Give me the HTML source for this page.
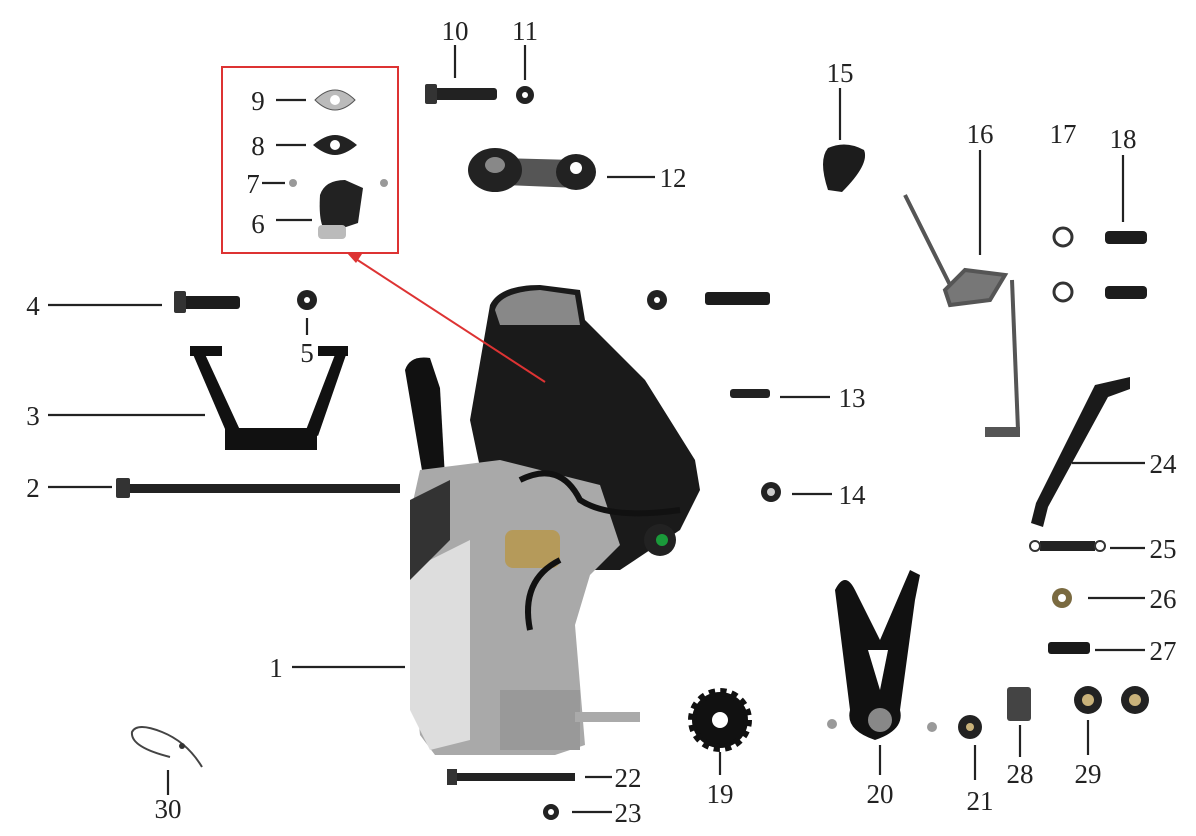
<!DOCTYPE html>
<html><head><meta charset="utf-8"><style>
html,body{margin:0;padding:0;background:#fff;}
svg{display:block;}
text{font-family:"Liberation Serif",serif;font-size:27px;fill:#222;}
</style></head><body>
<svg width="1196" height="836" viewBox="0 0 1196 836" xmlns="http://www.w3.org/2000/svg">
<rect width="1196" height="836" fill="#fff"/>
<g stroke="#222" stroke-width="2.2" fill="none">
<line x1="455" y1="45" x2="455" y2="78"/>
<line x1="525" y1="45" x2="525" y2="80"/>
<line x1="607" y1="177" x2="655" y2="177"/>
<line x1="840" y1="88" x2="840" y2="140"/>
<line x1="980" y1="150" x2="980" y2="255"/>
<line x1="1123" y1="155" x2="1123" y2="222"/>
<line x1="276" y1="100" x2="306" y2="100"/>
<line x1="276" y1="145" x2="306" y2="145"/>
<line x1="262" y1="183" x2="285" y2="183"/>
<line x1="276" y1="220" x2="312" y2="220"/>
<line x1="48" y1="305" x2="162" y2="305"/>
<line x1="307" y1="318" x2="307" y2="335"/>
<line x1="48" y1="415" x2="205" y2="415"/>
<line x1="48" y1="487" x2="112" y2="487"/>
<line x1="292" y1="667" x2="405" y2="667"/>
<line x1="780" y1="397" x2="830" y2="397"/>
<line x1="792" y1="494" x2="832" y2="494"/>
<line x1="1072" y1="463" x2="1145" y2="463"/>
<line x1="1110" y1="548" x2="1145" y2="548"/>
<line x1="1088" y1="598" x2="1145" y2="598"/>
<line x1="1095" y1="650" x2="1145" y2="650"/>
<line x1="1088" y1="720" x2="1088" y2="755"/>
<line x1="1020" y1="725" x2="1020" y2="757"/>
<line x1="975" y1="745" x2="975" y2="780"/>
<line x1="880" y1="745" x2="880" y2="775"/>
<line x1="720" y1="752" x2="720" y2="775"/>
<line x1="585" y1="777" x2="612" y2="777"/>
<line x1="572" y1="812" x2="612" y2="812"/>
<line x1="168" y1="770" x2="168" y2="795"/>
</g>
<text x="455" y="40" text-anchor="middle">10</text>
<text x="525" y="40" text-anchor="middle">11</text>
<text x="673" y="187" text-anchor="middle">12</text>
<text x="840" y="82" text-anchor="middle">15</text>
<text x="980" y="143" text-anchor="middle">16</text>
<text x="1063" y="143" text-anchor="middle">17</text>
<text x="1123" y="148" text-anchor="middle">18</text>
<text x="258" y="110" text-anchor="middle">9</text>
<text x="258" y="155" text-anchor="middle">8</text>
<text x="253" y="193" text-anchor="middle">7</text>
<text x="258" y="233" text-anchor="middle">6</text>
<text x="33" y="315" text-anchor="middle">4</text>
<text x="307" y="362" text-anchor="middle">5</text>
<text x="33" y="425" text-anchor="middle">3</text>
<text x="33" y="497" text-anchor="middle">2</text>
<text x="276" y="677" text-anchor="middle">1</text>
<text x="852" y="407" text-anchor="middle">13</text>
<text x="852" y="504" text-anchor="middle">14</text>
<text x="1163" y="473" text-anchor="middle">24</text>
<text x="1163" y="558" text-anchor="middle">25</text>
<text x="1163" y="608" text-anchor="middle">26</text>
<text x="1163" y="660" text-anchor="middle">27</text>
<text x="1088" y="783" text-anchor="middle">29</text>
<text x="1020" y="783" text-anchor="middle">28</text>
<text x="980" y="810" text-anchor="middle">21</text>
<text x="880" y="803" text-anchor="middle">20</text>
<text x="720" y="803" text-anchor="middle">19</text>
<text x="628" y="787" text-anchor="middle">22</text>
<text x="628" y="822" text-anchor="middle">23</text>
<text x="168" y="818" text-anchor="middle">30</text>

<rect x="222" y="67" width="176" height="186" fill="none" stroke="#d33" stroke-width="2"/>
<path d="M315,100 q10,-10 20,-10 q10,0 20,10 q-10,10 -20,10 q-10,0 -20,-10z" fill="#bbb" stroke="#555"/>
<circle cx="335" cy="100" r="5" fill="#fff"/>
<path d="M313,145 q12,-10 22,-10 q10,0 22,10 q-12,10 -22,10 q-10,0 -22,-10z" fill="#222"/>
<circle cx="335" cy="145" r="5" fill="#fff"/>
<circle cx="293" cy="183" r="4" fill="#999"/>
<circle cx="384" cy="183" r="4" fill="#999"/>
<path d="M320,195 q5,-15 25,-15 l18,8 l-5,35 l-30,10 q-10,-5 -8,-38z" fill="#222"/>
<rect x="318" y="225" width="28" height="14" rx="4" fill="#bbb"/>

<rect x="427" y="88" width="70" height="12" rx="3" fill="#222"/>
<rect x="425" y="84" width="12" height="20" rx="2" fill="#333"/>
<circle cx="525" cy="95" r="9" fill="#222"/><circle cx="525" cy="95" r="3" fill="#fff"/>
<path d="M500,158 L575,160 L578,188 L505,185z" fill="#555"/>
<ellipse cx="495" cy="170" rx="27" ry="22" fill="#222"/>
<ellipse cx="495" cy="165" rx="10" ry="8" fill="#888"/>
<ellipse cx="576" cy="172" rx="20" ry="18" fill="#222"/>
<ellipse cx="576" cy="168" rx="6" ry="6" fill="#fff"/>
<path d="M828,190 q-10,-30 0,-42 q18,-8 36,2 q6,14 -22,42z" fill="#1c1c1c"/>
<g stroke="#555" stroke-width="4" fill="none">
<line x1="905" y1="195" x2="955" y2="295"/>
<path d="M945,290 l20,-20 l40,5 l-15,25 l-40,5z" fill="#777"/>
<line x1="1012" y1="280" x2="1018" y2="430"/>
<line x1="985" y1="432" x2="1020" y2="432" stroke-width="10"/>
</g>
<circle cx="1063" cy="237" r="9" fill="none" stroke="#333" stroke-width="3"/>
<circle cx="1063" cy="292" r="9" fill="none" stroke="#333" stroke-width="3"/>
<rect x="1105" y="231" width="42" height="13" rx="4" fill="#1c1c1c"/>
<rect x="1105" y="286" width="42" height="13" rx="4" fill="#1c1c1c"/>
<rect x="175" y="296" width="65" height="13" rx="3" fill="#1c1c1c"/>
<rect x="174" y="291" width="12" height="22" rx="2" fill="#333"/>
<circle cx="307" cy="300" r="10" fill="#222"/><circle cx="307" cy="300" r="3" fill="#fff"/>
<!-- 3 bracket -->
<g fill="#111">
<rect x="190" y="346" width="32" height="10"/>
<rect x="318" y="346" width="30" height="10"/>
<polygon points="192,352 204,352 240,430 228,436"/>
<polygon points="336,352 347,352 318,436 306,430"/>
<rect x="225" y="428" width="92" height="22"/>
</g>
<rect x="118" y="484" width="282" height="9" fill="#222"/>
<rect x="116" y="478" width="14" height="20" rx="2" fill="#333"/>
<circle cx="657" cy="300" r="10" fill="#222"/><circle cx="657" cy="300" r="3" fill="#fff"/>
<rect x="705" y="292" width="65" height="13" rx="3" fill="#1c1c1c"/>
<rect x="730" y="389" width="40" height="9" rx="3" fill="#222"/>
<circle cx="771" cy="492" r="10" fill="#222"/><circle cx="771" cy="492" r="4" fill="#ccc"/>

<!-- engine -->
<path d="M490,305 q10,-20 50,-20 l40,5 l5,30 l60,60 l50,80 l5,30 l-20,40 l-30,20 l-30,20 l-70,0 l0,40 l-40,0 l-40,-190z" fill="#1a1a1a"/>
<path d="M495,310 q5,-18 45,-20 l35,5 l5,30 l-80,0z" fill="#888"/>
<path d="M405,370 q5,-15 25,-12 l10,30 l5,90 l-20,10 z" fill="#111"/>
<path d="M420,470 l80,-10 l100,25 l20,60 l-30,30 l-15,50 l10,120 l-30,10 l-120,0 l-15,-20 l-10,-100 l0,-120 z" fill="#a9a9a9"/>
<path d="M410,570 l60,-30 l0,200 l-40,10 l-20,-40z" fill="#ddd"/>
<path d="M410,500 l40,-20 l0,60 l-40,40z" fill="#333"/>
<rect x="505" y="530" width="55" height="38" rx="8" fill="#b59a5a"/>
<rect x="500" y="690" width="80" height="60" fill="#999"/>
<rect x="575" y="712" width="65" height="10" fill="#aaa"/>
<circle cx="660" cy="540" r="16" fill="#222"/><circle cx="662" cy="540" r="6" fill="#1a9a3a"/>
<path d="M520,480 q40,-20 60,20 q30,20 100,10" stroke="#111" stroke-width="6" fill="none"/>
<path d="M560,560 q-40,20 -30,70" stroke="#111" stroke-width="6" fill="none"/>

<line x1="545" y1="382" x2="356" y2="259" stroke="#d33" stroke-width="2"/>
<polygon points="347,253 362,254 356,263" fill="#d33"/>

<path d="M1095,385 l35,-8 l0,12 l-22,8 l-60,110 l-5,20 l-12,-4 l5,-20z" fill="#1a1a1a"/>
<rect x="1040" y="541" width="55" height="10" fill="#222"/>
<circle cx="1035" cy="546" r="5" fill="none" stroke="#333" stroke-width="2"/>
<circle cx="1100" cy="546" r="5" fill="none" stroke="#333" stroke-width="2"/>
<circle cx="1062" cy="598" r="10" fill="#7a6a40"/><circle cx="1062" cy="598" r="4" fill="#fff"/>
<rect x="1048" y="642" width="42" height="12" rx="3" fill="#1a1a1a"/>
<rect x="1007" y="687" width="24" height="34" rx="3" fill="#444"/>
<circle cx="1088" cy="700" r="14" fill="#222"/><circle cx="1088" cy="700" r="6" fill="#c9b27a"/>
<circle cx="1135" cy="700" r="14" fill="#222"/><circle cx="1135" cy="700" r="6" fill="#c9b27a"/>
<circle cx="970" cy="727" r="12" fill="#222"/><circle cx="970" cy="727" r="4" fill="#c9b27a"/>
<path d="M835,590 q10,-20 20,0 l25,50 l30,-70 l10,5 l-5,25 l-15,110 q5,20 -25,30 q-30,-10 -25,-30z" fill="#111"/>
<path d="M868,650 l20,0 l-8,40z" fill="#fff"/>
<circle cx="880" cy="720" r="12" fill="#888"/>
<circle cx="832" cy="724" r="5" fill="#999"/>
<circle cx="932" cy="727" r="5" fill="#999"/>
<circle cx="720" cy="720" r="28" fill="#111" stroke="#111" stroke-width="8" stroke-dasharray="6 5"/>
<circle cx="720" cy="720" r="8" fill="#fff"/>
<rect x="452" y="773" width="123" height="8" fill="#222"/>
<rect x="447" y="769" width="10" height="16" fill="#333"/>
<circle cx="551" cy="812" r="8" fill="#222"/><circle cx="551" cy="812" r="3" fill="#fff"/>
<path d="M170,757 q-40,-10 -38,-25 q5,-10 30,0 q25,10 40,35" fill="none" stroke="#444" stroke-width="2"/>
<circle cx="182" cy="746" r="3" fill="#333"/>
</svg>
</body></html>
